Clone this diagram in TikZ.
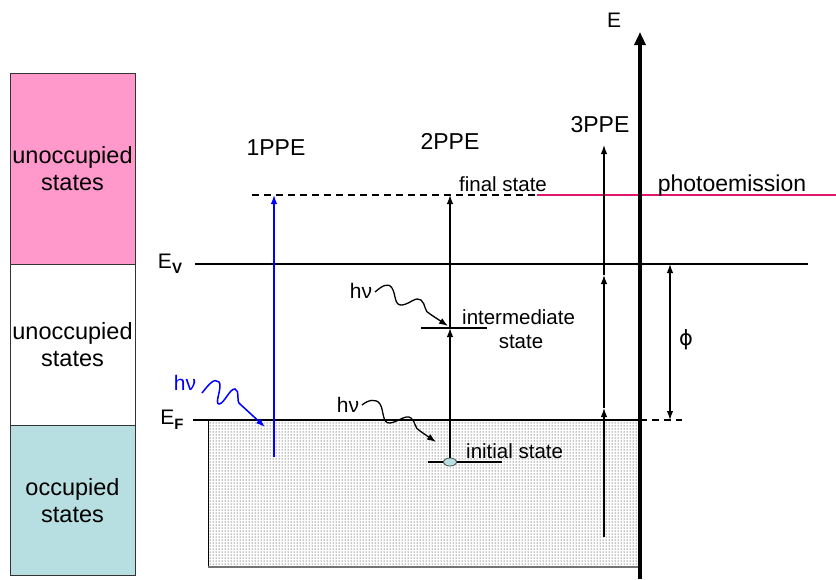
\documentclass[tikz,border=0pt]{standalone}
\usepackage{fontspec}
\setmainfont{Liberation Sans}
\newfontfamily\dvs{DejaVu Sans}
\usetikzlibrary{arrows.meta,patterns,shapes.geometric}
\definecolor{pinkfill}{RGB}{255,153,204}
\definecolor{tealfill}{RGB}{183,222,224}
\definecolor{emitline}{RGB}{225,20,110}
\begin{document}
\begin{tikzpicture}[x=1pt,y=-1pt,
  boxst/.style={draw=black!80, line width=0.9pt, minimum width=125pt, inner sep=0pt, align=center,
    font=\fontsize{23.5}{27}\selectfont},
  lab/.style={font=\fontsize{21}{24}\selectfont, inner sep=0pt},
  plab/.style={font=\fontsize{23}{24}\selectfont, inner sep=0pt},
  slab/.style={font=\fontsize{20.5}{23}\selectfont, inner sep=0pt, align=center},
  ln/.style={line width=1.3pt},
  tip/.style={-{Latex[length=9pt,width=6.5pt]}},
  dtip/.style={{Latex[length=9pt,width=6.5pt]}-{Latex[length=9pt,width=6.5pt]}},
]
\useasboundingbox (0,0) rectangle (836,579);
% left boxes
\node[boxst, fill=pinkfill, minimum height=191pt] (b1) at (72.5,168.5) {unoccupied\\states};
\node[boxst, fill=white, minimum height=161pt] (b2) at (72.5,344.5) {unoccupied\\states};
\node[boxst, fill=tealfill, minimum height=150pt] (b3) at (72.5,500.5) {occupied\\states};
% occupied region
\fill[pattern=dots, pattern color=black] (208,420) rectangle (640,567);
\draw[line width=1pt] (208,420) -- (208,567);
\draw[line width=1.2pt, black!55] (208,567) -- (640,567);
% levels
\coordinate (evl) at (195,264); \coordinate (evr) at (808,264);
\draw[ln] (evl) -- (evr);
\coordinate (efl) at (193,420); \coordinate (efm) at (640,420); \coordinate (efr) at (682,420);
\draw[ln] (efl) -- (efm);
\draw[ln, dash pattern=on 7pt off 5pt] (efm) -- (efr);
\coordinate (fsl) at (252,195); \coordinate (fsm) at (537,195); \coordinate (fsr) at (836,195);
\draw[ln, dash pattern=on 7pt off 5pt] (fsl) -- (fsm);
\draw[line width=1.3pt, emitline] (fsm) -- (fsr);
\node[lab] (EV) at (170,264) {E\raisebox{-0.45ex}{\fontsize{15}{15}\selectfont\bfseries V}};
\node[lab] (EF) at (172,420) {E\raisebox{-0.45ex}{\fontsize{15}{15}\selectfont\bfseries F}};
% energy axis
\coordinate (ax0) at (640,579); \coordinate (ax1) at (640,32);
\draw[line width=4pt, -{Triangle[length=13pt,width=11pt]}] (ax0) -- (ax1);
\node[lab] (E) at (614,20) {E};
% labels
\node[plab] (p1) at (276,148) {1PPE};
\node[plab] (p2) at (450,141) {2PPE};
\node[plab] (p3) at (600,125) {3PPE};
\node[slab, anchor=base] (fs) at (503,191) {final state};
\node[font=\fontsize{23}{24}\selectfont, inner sep=0pt, anchor=base] (pe) at (732,191) {photoemission};
% 1PPE
\coordinate (a1b) at (274,457); \coordinate (a1t) at (274,195);
\draw[ln, blue, tip] (a1b) -- (a1t);
\node[lab, blue] (hv1) at (185,383) {hν};
\coordinate (g1) at (265,427);
\draw[line width=1.5pt, blue, tip] (202,393) .. controls (210,383) and (214,378) .. (219,382)
  .. controls (223,386) and (214,404) .. (219,404)
  .. controls (224,404) and (230,388) .. (235,389)
  .. controls (240,390) and (236,402) .. (240,404) -- (g1);
% 2PPE
\coordinate (isl) at (428,462); \coordinate (isr) at (502,462);
\draw[ln] (isl) -- (isr);
\coordinate (iml) at (421,328); \coordinate (imr) at (487,328);
\draw[ln] (iml) -- (imr);
\node[ellipse, draw=black!70, line width=0.8pt, fill=tealfill, minimum width=13pt, minimum height=8pt, inner sep=0pt] (el) at (450,462) {};
\coordinate (im) at (450,328); \coordinate (fs2) at (450,195);
\draw[ln, tip] (el.north) -- (im);
\draw[ln, tip] (im) -- (fs2);
\node[slab, anchor=base west] (ist) at (466,458) {initial state};
\node[slab, anchor=base west] (imt) at (462,324) {intermediate};
\node[slab, anchor=base] (imt2) at (521,348) {state};
\node[lab] (hv2) at (361,291) {hν};
\coordinate (g2) at (448,326);
\draw[line width=1.3pt, tip] (375,292) .. controls (382,286) and (388,282) .. (392,288)
  .. controls (396,294) and (394,306) .. (402,305)
  .. controls (410,304) and (416,296) .. (421,300)
  .. controls (426,304) and (424,312) .. (430,314) -- (g2);
\node[lab] (hv3) at (348,405) {hν};
\coordinate (g3) at (436,442);
\draw[line width=1.3pt, tip] (362,405) .. controls (368,400) and (376,398) .. (380,404)
  .. controls (384,410) and (382,424) .. (390,423)
  .. controls (398,422) and (406,414) .. (411,418)
  .. controls (416,422) and (414,428) .. (420,431) -- (g3);
% 3PPE
\coordinate (c0) at (604,537); \coordinate (c1) at (604,408);
\coordinate (c2) at (604,275); \coordinate (c3) at (604,145);
\draw[ln, tip] (c0) -- (c1);
\draw[ln, tip] (c1) -- (c2);
\draw[ln, tip] (c2) -- (c3);
% work function
\coordinate (w0) at (670,264); \coordinate (w1) at (670,420);
\draw[ln, dtip] (w0) -- (w1);
\node[font=\dvs\fontsize{21}{22}\selectfont, inner sep=0pt] (phi) at (686,340) {ϕ};
\end{tikzpicture}
\end{document}
